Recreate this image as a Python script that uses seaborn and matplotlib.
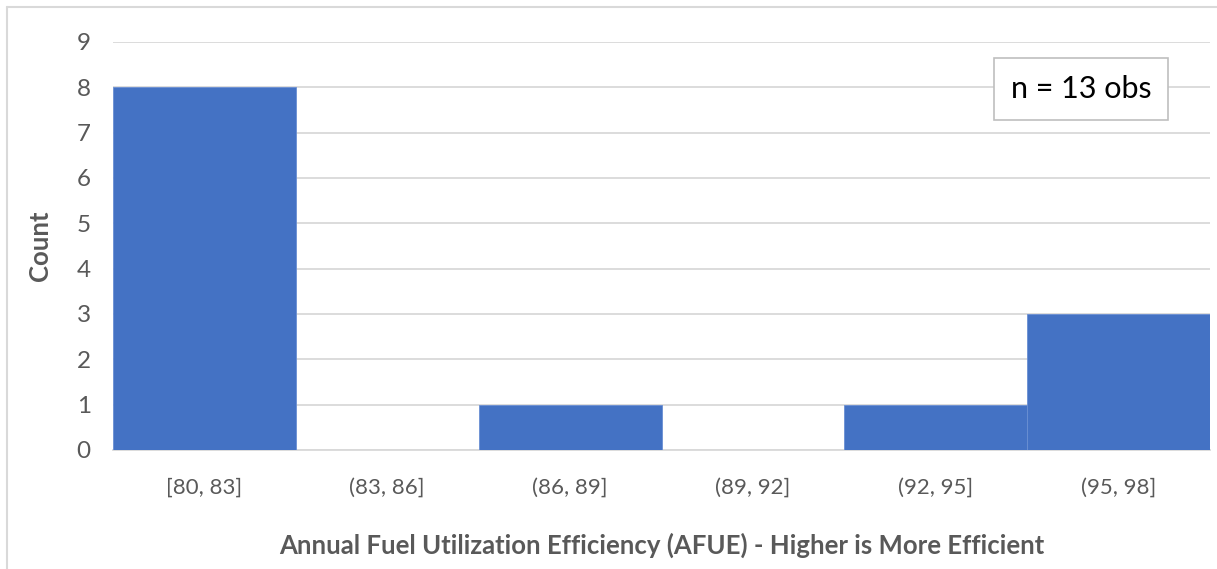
import matplotlib
matplotlib.use('Agg')
import matplotlib.pyplot as plt
import seaborn as sns
import pandas as pd
from matplotlib.lines import Line2D

# интервалы AFUE и число наблюдений в каждом
bins = ['[80, 83]', '(83, 86]', '(86, 89]', '(89, 92]', '(92, 95]', '(95, 98]']
counts = [8, 0, 1, 0, 1, 3]
n_obs = 13

df = pd.DataFrame({'bin': bins, 'count': counts})

sns.set_theme(style='white')
plt.rcParams['font.family'] = ['Lato', 'DejaVu Sans']

fig = plt.figure(figsize=(12.17, 5.69), dpi=100)
ax = fig.add_axes([113 / 1217, 1 - 450 / 569, (1210 - 113) / 1217, (450 - 42) / 569])

sns.barplot(data=df, x='bin', y='count', color='#4472C4', width=1.0,
            saturation=1, edgecolor='#6a8fd3', linewidth=0.6, ax=ax, zorder=3)

ax.set_ylim(0, 9)
ax.set_xlim(-0.5, len(bins) - 0.5)
ax.set_yticks(range(0, 10))
ax.yaxis.grid(True, color='#d9d9d9', linewidth=1.3, zorder=0)
ax.set_axisbelow(True)
for s in ['left', 'right', 'top']:
    ax.spines[s].set_visible(False)
ax.spines['bottom'].set_color('#d9d9d9')
ax.spines['bottom'].set_linewidth(1.3)
ax.tick_params(axis='both', length=0, labelcolor='#595959')
ax.tick_params(axis='x', pad=20, labelsize=16)
ax.tick_params(axis='y', pad=16, labelsize=17.5)

ax.set_xlabel('Annual Fuel Utilization Efficiency (AFUE) - Higher is More Efficient',
              fontsize=18.5, fontweight='bold', color='#595959', labelpad=25)
ax.set_ylabel('Count', fontsize=18.5, fontweight='bold', color='#595959', labelpad=18)

# подпись с числом наблюдений
fig.text(1081 / 1217, 1 - 89 / 569, f'n = {n_obs} obs', fontsize=22, color='black',
         ha='center', va='center',
         bbox=dict(boxstyle='square,pad=0.55', facecolor='white', edgecolor='#bfbfbf', linewidth=1.2))

# рамка вокруг области диаграммы
fig.add_artist(Line2D([7 / 1217, 7 / 1217], [0, 1 - 7 / 569], transform=fig.transFigure,
                      color='#d9d9d9', linewidth=1.5))
fig.add_artist(Line2D([7 / 1217, 1], [1 - 7 / 569, 1 - 7 / 569], transform=fig.transFigure,
                      color='#d9d9d9', linewidth=1.5))

fig.savefig('out.png', dpi=100)
